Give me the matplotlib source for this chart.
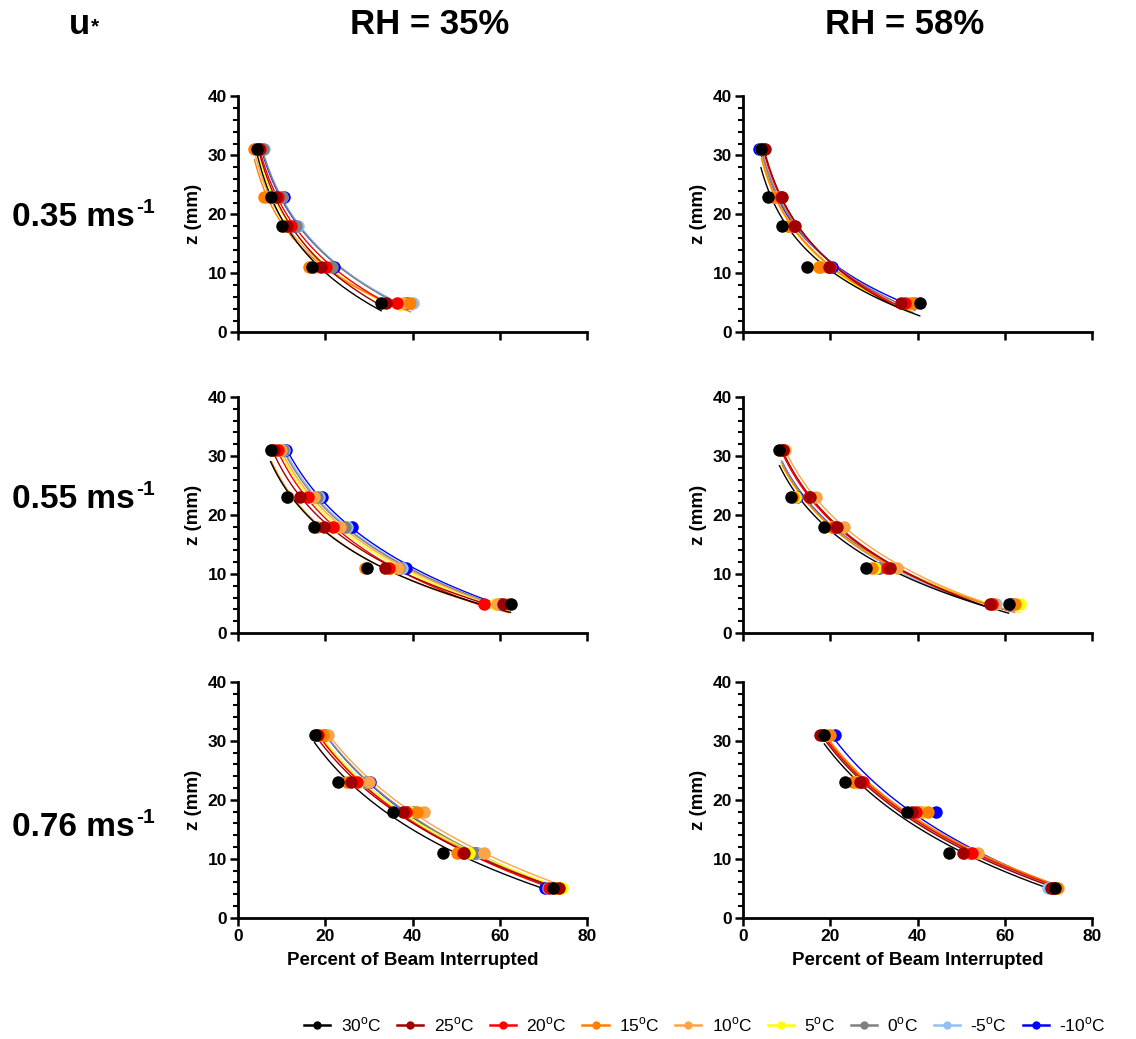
import numpy as np
import matplotlib
matplotlib.use('Agg')
import matplotlib.pyplot as plt
from matplotlib.lines import Line2D
from matplotlib.ticker import MultipleLocator

plt.rcParams['font.family'] = ['Liberation Sans', 'DejaVu Sans']
plt.rcParams['mathtext.fontset'] = 'custom'
plt.rcParams['mathtext.rm'] = 'Liberation Sans'

# ---------------- data ----------------
heights = [31, 23, 18, 11, 5]  # z (mm)
temps = ['30', '25', '20', '15', '10', '5', '0', '-5', '-10']
colors = ['#000000', '#A00000', '#FF0000', '#FF8000', '#FFA347',
          '#FFFF00', '#808080', '#91C0F2', '#0000FF']
row_labels = ['0.35', '0.55', '0.76']
col_titles = ['RH = 35%', 'RH = 58%']

# percent of beam interrupted, rows follow `temps`, columns follow `heights`
pct_u035_rh35 = [
    [4.4, 7.5, 10.0, 16.9, 32.8],
    [4.8, 8.7, 11.2, 19.0, 33.9],
    [5.0, 9.2, 12.2, 20.2, 36.4],
    [3.7, 5.9, 10.5, 16.3, 39.5],
    [4.0, 6.5, 11.5, 17.5, 38.0],
    [4.6, 8.0, 11.0, 18.5, 37.4],
    [5.6, 10.0, 13.3, 21.5, 38.8],
    [5.8, 10.1, 13.6, 21.0, 40.1],
    [5.3, 10.4, 13.0, 21.9, 38.5],
]
pct_u035_rh58 = [
    [4.05, 5.7, 8.9, 14.7, 40.5],
    [5.0, 8.8, 11.85, 19.7, 36.1],
    [4.8, 8.6, 11.6, 20.0, 37.1],
    [4.2, 6.9, 10.3, 17.4, 39.0],
    [4.3, 7.2, 10.6, 17.8, 38.5],
    [4.1, 7.0, 10.1, 17.2, 38.0],
    [4.5, 8.0, 11.0, 19.5, 39.4],
    [4.4, 8.2, 11.2, 19.8, 38.6],
    [3.7, 8.4, 11.5, 20.3, 38.2],
]
pct_u055_rh35 = [
    [7.4, 11.1, 17.4, 29.5, 62.5],
    [8.3, 14.2, 19.7, 33.7, 60.8],
    [9.0, 15.9, 21.7, 34.5, 56.3],
    [7.6, 11.3, 18.0, 29.0, 62.0],
    [9.8, 17.4, 23.4, 36.6, 59.5],
    [9.5, 16.8, 22.5, 35.2, 59.0],
    [10.3, 18.0, 24.5, 37.0, 60.0],
    [10.6, 18.5, 25.0, 37.5, 59.8],
    [11.0, 19.3, 26.1, 38.5, 60.0],
]
pct_u055_rh58 = [
    [8.3, 10.9, 18.6, 28.1, 60.9],
    [9.2, 15.4, 21.6, 33.6, 56.6],
    [9.0, 15.0, 21.0, 33.0, 57.0],
    [9.0, 11.5, 20.3, 29.6, 62.3],
    [9.6, 16.8, 23.1, 35.2, 57.5],
    [8.6, 11.8, 20.0, 30.2, 63.5],
    [8.8, 12.0, 20.8, 31.3, 62.0],
    [8.7, 12.2, 20.5, 30.8, 58.0],
    [8.9, 12.4, 20.6, 31.0, 61.5],
]
pct_u076_rh35 = [
    [17.5, 23.0, 35.5, 46.9, 72.3],
    [18.0, 25.8, 37.8, 51.7, 73.6],
    [18.3, 27.2, 38.5, 51.5, 71.3],
    [19.5, 24.9, 41.0, 50.2, 73.0],
    [20.5, 30.0, 42.7, 56.3, 73.5],
    [19.0, 27.5, 39.5, 52.9, 74.3],
    [19.8, 29.5, 40.0, 54.0, 72.5],
    [20.0, 29.0, 40.5, 55.0, 71.0],
    [19.5, 30.2, 39.0, 54.5, 70.3],
]
pct_u076_rh58 = [
    [18.6, 23.3, 37.6, 47.2, 71.6],
    [17.6, 26.9, 38.8, 50.5, 70.6],
    [18.0, 27.5, 39.6, 52.4, 71.0],
    [19.9, 25.2, 42.4, 52.0, 72.0],
    [19.5, 26.0, 40.5, 53.9, 72.2],
    [19.0, 25.8, 41.5, 51.5, 71.5],
    [18.5, 26.0, 41.0, 51.0, 71.2],
    [18.2, 26.5, 40.0, 51.8, 70.0],
    [21.0, 27.0, 44.2, 52.0, 71.0],
]
panels = [[pct_u035_rh35, pct_u035_rh58],
          [pct_u055_rh35, pct_u055_rh58],
          [pct_u076_rh35, pct_u076_rh58]]

# ---------------- figure ----------------
W, H = 1136, 1039
fig = plt.figure(figsize=(W / 100, H / 100), dpi=100)

col_left = [238.3, 743.3]
ax_w = 348.5
row_bottom = [332.3, 633.0, 917.7]
ax_h = 236.0

z = np.array(heights, dtype=float)
axes = []
for r in range(3):
    for c in range(2):
        ax = fig.add_axes([col_left[c] / W, 1 - row_bottom[r] / H, ax_w / W, ax_h / H])
        axes.append(ax)
        data = panels[r][c]
        for i in reversed(range(len(temps))):
            x = np.array(data[i], dtype=float)
            b, a = np.polyfit(np.log(x), z, 1)
            xs = np.linspace(x.min(), x.max(), 200)
            ax.plot(xs, a + b * np.log(xs), color=colors[i], lw=1.0, zorder=2)
        for i in reversed(range(len(temps))):
            ax.plot(data[i], heights, 'o', color=colors[i], ms=9, mec='none',
                    zorder=3, clip_on=False)
        ax.set_xlim(0, 80)
        ax.set_ylim(0, 40)
        for s in ['top', 'right']:
            ax.spines[s].set_visible(False)
        for s in ['left', 'bottom']:
            ax.spines[s].set_linewidth(2.0)
        ax.xaxis.set_major_locator(MultipleLocator(20))
        ax.yaxis.set_major_locator(MultipleLocator(10))
        ax.yaxis.set_minor_locator(MultipleLocator(2))
        ax.tick_params(which='major', length=6, width=1.8, labelsize=12.5, pad=2)
        ax.tick_params(which='minor', length=3.5, width=1.5)
        for lab in ax.get_yticklabels() + ax.get_xticklabels():
            lab.set_fontweight('bold')
        ax.set_ylabel('z (mm)', fontsize=13.5, fontweight='bold', labelpad=4)
        if r < 2:
            ax.tick_params(axis='x', labelbottom=False)
        else:
            ax.set_xlabel('Percent of Beam Interrupted', fontsize=13.5,
                          fontweight='bold', labelpad=6)

# column titles
fig.text(430 / W, 1 - 25 / H, col_titles[0], ha='center', va='center',
         fontsize=25, fontweight='bold')
fig.text(905 / W, 1 - 25 / H, col_titles[1], ha='center', va='center',
         fontsize=25, fontweight='bold')

# u* label
tu = fig.text(69 / W, 1 - 25 / H, 'u', ha='left', va='center', fontsize=25, fontweight='bold')
axes[0].annotate('*', xy=(1.0, 0.15), xycoords=tu, xytext=(0.5, 0), textcoords='offset points',
                 ha='left', va='bottom', fontsize=15, fontweight='bold', annotation_clip=False)

# row labels
row_y = [218, 500, 828]
for r in range(3):
    t = fig.text(12 / W, 1 - row_y[r] / H, row_labels[r] + ' ms', ha='left', va='center',
                 fontsize=24, fontweight='bold')
    axes[2 * r].annotate('-1', xy=(1.0, 1.0), xycoords=t, xytext=(1.0, 3),
                         textcoords='offset points', ha='left', va='top',
                         fontsize=15, fontweight='bold', annotation_clip=False)

# legend
handles = [Line2D([], [], color=colors[i], lw=1.8, marker='o', ms=6, mec='none')
           for i in range(len(temps))]
labels = [t + r'$^{\rm o}$C' for t in temps]
fig.legend(handles, labels, ncol=9, loc='center', bbox_to_anchor=(705 / W, 1 - 1025 / H),
           frameon=False, fontsize=12.5, handlelength=1.5, columnspacing=0.9,
           handletextpad=0.6, borderaxespad=0)

fig.savefig('out.png', dpi=100)
